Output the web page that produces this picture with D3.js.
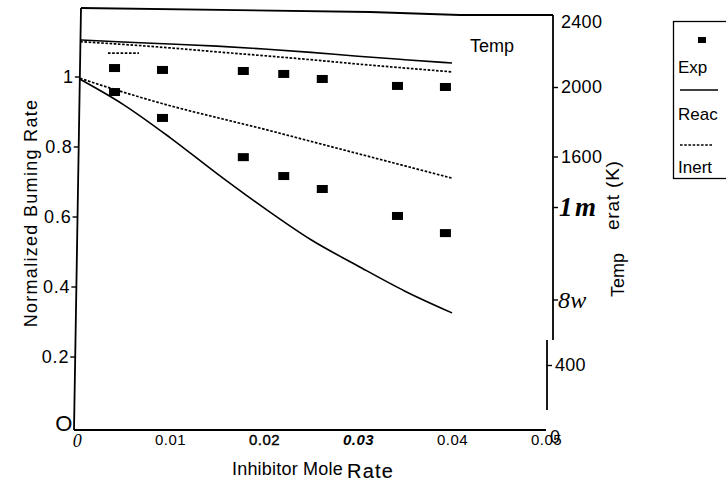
<!DOCTYPE html>
<html>
<head>
<meta charset="utf-8">
<script src="https://cdn.jsdelivr.net/npm/d3@7"></script>
<style>
body { margin: 0; background: #fff; }
svg { display: block; font-family: "Liberation Sans", Arial, Helvetica, sans-serif; }
</style>
</head>
<body>
<svg width="726" height="485"></svg>
<script>
// model curves, sampled along the inhibitor mole rate
var xGrid = [0, 0.005, 0.01, 0.015, 0.02, 0.025, 0.03, 0.035, 0.04];
var reacRate = [1.0, 0.922, 0.827, 0.724, 0.626, 0.535, 0.460, 0.388, 0.326];
var inertRate = [1.0, 0.957, 0.918, 0.884, 0.851, 0.816, 0.781, 0.746, 0.711];
var reacTemp = [2275, 2262, 2250, 2238, 2222, 2202, 2180, 2160, 2141];
var inertTemp = [2265, 2248, 2228, 2205, 2183, 2160, 2135, 2112, 2090];
// short stray dotted piece near the start of the inert temperature
var stubX = [0.0034, 0.0067];
var stubTemp = [2198, 2198];

// experiment
var expX = [0.0041, 0.0092, 0.0178, 0.0221, 0.0262, 0.0342, 0.0393];
var expRate = [0.957, 0.883, 0.771, 0.717, 0.680, 0.603, 0.554];
var expTemp = [2112, 2101, 2095, 2078, 2049, 2009, 2003];

// ticks as printed
var xTicks = [0, 0.01, 0.02, 0.03, 0.04, 0.05];
var xTickText = ["0", "0.01", "0.02", "0.03", "0.04", "0.05"];
var rateTicks = [0, 0.2, 0.4, 0.6, 0.8, 1];
var rateTickText = ["O", "0.2", "0.4", "0.6", "0.8", "1"];
var tempTicks = [0, 400, 800, 1200, 1600, 2000, 2400];
var tempTickText = ["0", "400", "8w", "1m", "1600", "2000", "2400"];
var legendItems = ["Exp", "Reac", "Inert"];

var svg = d3.select("svg");

var x = d3.scaleLinear().domain([0, 0.05]).range([76, 546]);
var yL = d3.scaleLinear().domain([0, 1]).range([427, 77]);
var yR = d3.scaleLinear().domain([0, 2400]).range([435, 18]);

// the scanned frame leans a little: left edge runs from (81,8) to (74,430)
function leftEdge(y) { return 81 - (y - 8) * 7 / 422; }

svg.append("defs").append("clipPath").attr("id", "plotclip")
    .append("polygon")
    .attr("points", [[leftEdge(0), 0], [553, 0], [553, 430], [leftEdge(430), 430]].join(" "));

var plot = svg.append("g").attr("clip-path", "url(#plotclip)");

function series(xs, ys, yScale) {
    return xs.map(function (d, i) { return [x(d), yScale(ys[i])]; });
}
var line = d3.line();
var smooth = d3.line().curve(d3.curveMonotoneX);

function drawLine(pts, dotted) {
    plot.append("path")
        .attr("d", smooth(pts))
        .attr("fill", "none")
        .attr("stroke", "#000")
        .attr("stroke-width", dotted ? 1.7 : 1.6)
        .attr("stroke-dasharray", dotted ? "2.6,1.6" : null);
}

drawLine(series(xGrid, reacTemp, yR), false);
drawLine(series(xGrid, inertTemp, yR), true);
drawLine(series(stubX, stubTemp, yR), true);
drawLine(series(xGrid, reacRate, yL), false);
drawLine(series(xGrid, inertRate, yL), true);

function drawExp(ys, yScale) {
    plot.selectAll(null)
        .data(expX.map(function (d, i) { return [d, ys[i]]; }))
        .enter()
        .append("rect")
        .attr("x", function (d) { return x(d[0]) - 5.5; })
        .attr("y", function (d) { return yScale(d[1]) - 4; })
        .attr("width", 11)
        .attr("height", 8)
        .attr("fill", "#000");
}
drawExp(expTemp, yR);
drawExp(expRate, yL);

// frame
var frame = svg.append("g").attr("fill", "none").attr("stroke", "#000").attr("stroke-width", 1.8);
frame.append("path").attr("d", line([[leftEdge(8), 8], [370, 12], [460, 15], [553, 15]]));
frame.append("path").attr("d", line([[leftEdge(8), 8], [leftEdge(430), 430]]));
frame.append("path").attr("d", line([[leftEdge(430), 430], [x(0.05), 430]]));
frame.append("path").attr("d", line([[553, 15], [553, 340]]));
frame.append("path").attr("d", line([[547, 340], [547, 410]]));

// left axis
var gL = svg.append("g")
    .call(d3.axisLeft(yL).tickValues(rateTicks).tickSize(5).tickPadding(1)
        .tickFormat(function (d, i) { return rateTickText[i]; }));
gL.select(".domain").remove();
gL.selectAll(".tick").attr("transform", function (d) {
    return "translate(" + leftEdge(yL(d)) + "," + yL(d) + ")";
});
gL.selectAll(".tick line").attr("stroke-width", 1.4);
gL.selectAll(".tick text").attr("font-size", 18).attr("font-family", "Liberation Sans, Arial, sans-serif")
    .attr("letter-spacing", 0.8).attr("fill", "#000");
gL.selectAll(".tick").filter(function (d) { return d === 0; })
    .each(function () {
        var t = d3.select(this);
        t.select("line").remove();
        t.select("text").attr("font-size", 22).attr("x", -1).attr("dy", "0.2em");
    });

// right axis
var rNudge = { 0: [-2, 2], 400: [-6, 0], 800: [0, 4], 1200: [0, -19], 2400: [0, 4] };
var gR = svg.append("g").attr("transform", "translate(553,0)")
    .call(d3.axisRight(yR).tickValues(tempTicks).tickSize(5).tickPadding(3)
        .tickFormat(function (d, i) { return tempTickText[i]; }));
gR.select(".domain").remove();
gR.selectAll(".tick").attr("transform", function (d) {
    var n = rNudge[d] || [0, 0];
    return "translate(" + n[0] + "," + (yR(d) + n[1]) + ")";
});
gR.selectAll(".tick line").attr("stroke-width", 1.4);
gR.selectAll(".tick text").attr("font-size", 18).attr("letter-spacing", 0.3)
    .attr("font-family", "Liberation Sans, Arial, sans-serif").attr("fill", "#000");
gR.selectAll(".tick").filter(function (d) { return d === 0 || d === 2400; }).select("line").remove();
gR.selectAll(".tick").filter(function (d) { return d === 0; }).select("text").attr("x", -1);
gR.selectAll(".tick").filter(function (d) { return d === 1200; }).select("text")
    .attr("font-family", "Liberation Serif, DejaVu Serif, serif")
    .attr("font-style", "italic").attr("font-weight", "bold").attr("font-size", 27)
    .attr("letter-spacing", 2.5).attr("x", 6);
gR.selectAll(".tick").filter(function (d) { return d === 800; }).select("text")
    .attr("font-family", "Liberation Serif, DejaVu Serif, serif")
    .attr("font-style", "italic").attr("font-size", 24).attr("x", 5);

// bottom axis labels
var gX = svg.append("g").attr("transform", "translate(0,430)")
    .call(d3.axisBottom(x).tickValues(xTicks).tickSize(0).tickPadding(4)
        .tickFormat(function (d, i) { return xTickText[i]; }));
gX.select(".domain").remove();
gX.selectAll(".tick text").attr("font-size", 15).attr("fill", "#000")
    .attr("font-family", "Liberation Sans, Arial, sans-serif").attr("letter-spacing", 0.4);
gX.selectAll(".tick").filter(function (d) { return d === 0; }).select("text")
    .attr("font-family", "Liberation Serif, DejaVu Serif, serif").attr("font-style", "italic")
    .attr("font-size", 18).attr("dx", 1);
gX.selectAll(".tick").filter(function (d) { return d === 0.02; }).select("text")
    .attr("stroke", "#000").attr("stroke-width", 0.4);
gX.selectAll(".tick").filter(function (d) { return d === 0.03; }).select("text")
    .attr("font-style", "italic").attr("font-weight", "bold");

// titles
svg.append("text")
    .attr("transform", "translate(37,213) rotate(-90)")
    .attr("text-anchor", "middle")
    .attr("font-size", 18)
    .attr("letter-spacing", 1.3)
    .text("Normalized Buming Rate");

svg.append("text")
    .attr("x", 232).attr("y", 475)
    .attr("font-size", 18)
    .attr("letter-spacing", 0.2)
    .text("Inhibitor Mole");
svg.append("text")
    .attr("x", 347).attr("y", 478)
    .attr("font-size", 20)
    .attr("letter-spacing", 1.2)
    .attr("stroke", "#000").attr("stroke-width", 0.15)
    .text("Rate");

svg.append("text")
    .attr("transform", "translate(624,297) rotate(-90)")
    .attr("font-size", 18)
    .text("Temp");
svg.append("text")
    .attr("transform", "translate(619,230) rotate(-90)")
    .attr("font-size", 19)
    .attr("letter-spacing", 0.8)
    .text("erat (K)");

svg.append("text")
    .attr("x", 470).attr("y", 52)
    .attr("font-size", 18)
    .text("Temp");

// legend
var lg = svg.append("g");
lg.append("rect")
    .attr("x", 673.5).attr("y", 21.5).attr("width", 80).attr("height", 157)
    .attr("fill", "none").attr("stroke", "#000").attr("stroke-width", 1.3);
lg.append("rect").attr("x", 698).attr("y", 37).attr("width", 8).attr("height", 6).attr("fill", "#000");
lg.append("line").attr("x1", 680).attr("x2", 718).attr("y1", 90).attr("y2", 90)
    .attr("stroke", "#000").attr("stroke-width", 1.5);
lg.append("line").attr("x1", 680).attr("x2", 712).attr("y1", 145).attr("y2", 145)
    .attr("stroke", "#000").attr("stroke-width", 1.5).attr("stroke-dasharray", "2.6,1.6");
lg.selectAll(null)
    .data(legendItems)
    .enter()
    .append("text")
    .attr("x", 678)
    .attr("y", function (d, i) { return [73, 120, 173][i]; })
    .attr("font-size", 17)
    .text(function (d) { return d; });
</script>
</body>
</html>
